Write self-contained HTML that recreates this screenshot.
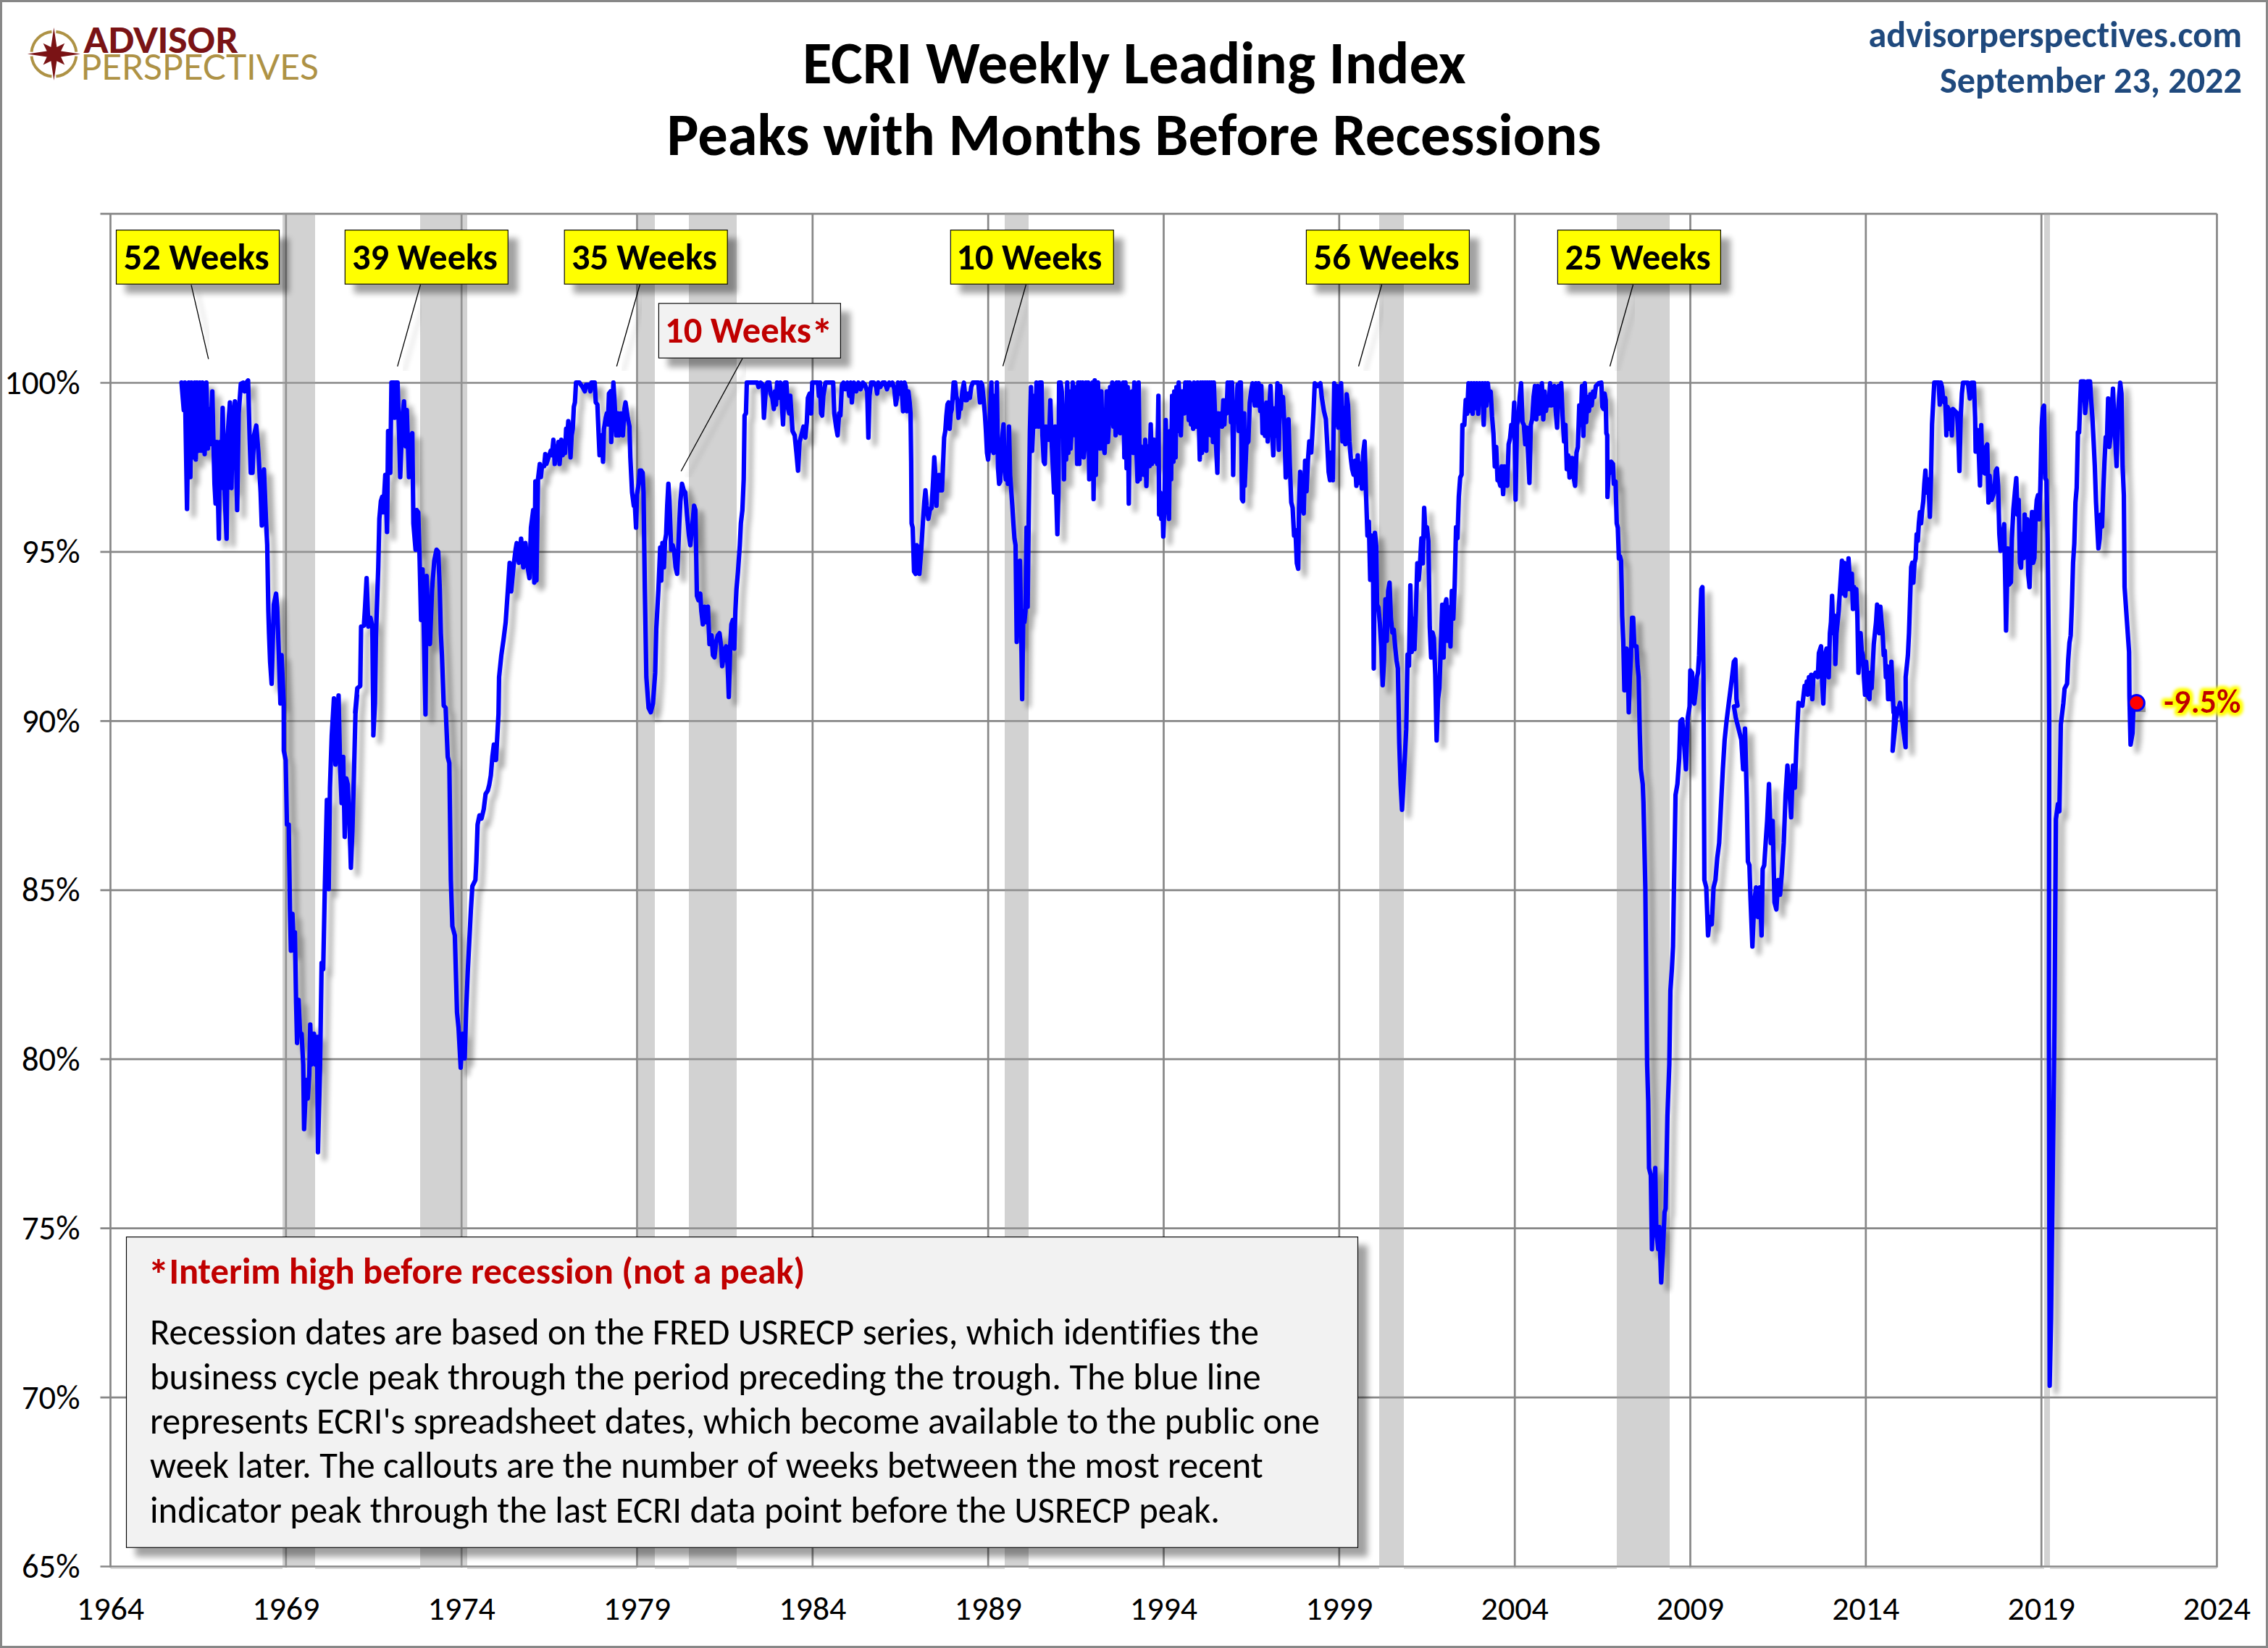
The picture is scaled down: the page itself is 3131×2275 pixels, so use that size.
<!DOCTYPE html>
<html><head><meta charset="utf-8"><title>ECRI Weekly Leading Index</title>
<style>
html,body{margin:0;padding:0;background:#fff;}
svg{display:block;}
text{font-family:Carlito, 'Liberation Sans', sans-serif;font-variant-ligatures:none;font-feature-settings:"liga" 0,"clig" 0;}
</style></head><body>
<svg width="3131" height="2275" viewBox="0 0 3131 2275">
<defs>
<filter id="shLine" x="-5%" y="-5%" width="110%" height="110%">
 <feGaussianBlur in="SourceAlpha" stdDeviation="3.8"/>
 <feOffset dx="9" dy="9" result="b"/>
 <feComponentTransfer><feFuncA type="linear" slope="0.33"/></feComponentTransfer>
 <feMerge><feMergeNode/><feMergeNode in="SourceGraphic"/></feMerge>
</filter>
<filter id="shBox" x="-20%" y="-20%" width="150%" height="160%">
 <feGaussianBlur in="SourceAlpha" stdDeviation="4.4"/>
 <feOffset dx="12.5" dy="12" result="b"/>
 <feComponentTransfer><feFuncA type="linear" slope="0.37"/></feComponentTransfer>
 <feMerge><feMergeNode/><feMergeNode in="SourceGraphic"/></feMerge>
</filter>
<filter id="glow" x="-20%" y="-40%" width="140%" height="180%">
 <feMorphology in="SourceAlpha" operator="dilate" radius="3" result="d"/>
 <feGaussianBlur in="d" stdDeviation="2.5" result="bl"/>
 <feFlood flood-color="#FFFF00"/>
 <feComposite in2="bl" operator="in" result="y"/>
 <feMerge><feMergeNode in="y"/><feMergeNode in="y"/><feMergeNode in="SourceGraphic"/></feMerge>
</filter>
</defs>
<rect x="0" y="0" width="3131" height="2275" fill="#fff"/>

<line x1="138.5" y1="2162.5" x2="3060.5" y2="2162.5" stroke="#878787" stroke-width="2.7"/>
<line x1="138.5" y1="1929.1" x2="3060.5" y2="1929.1" stroke="#878787" stroke-width="2.7"/>
<line x1="138.5" y1="1695.7" x2="3060.5" y2="1695.7" stroke="#878787" stroke-width="2.7"/>
<line x1="138.5" y1="1462.2" x2="3060.5" y2="1462.2" stroke="#878787" stroke-width="2.7"/>
<line x1="138.5" y1="1228.8" x2="3060.5" y2="1228.8" stroke="#878787" stroke-width="2.7"/>
<line x1="138.5" y1="995.4" x2="3060.5" y2="995.4" stroke="#878787" stroke-width="2.7"/>
<line x1="138.5" y1="761.9" x2="3060.5" y2="761.9" stroke="#878787" stroke-width="2.7"/>
<line x1="138.5" y1="528.5" x2="3060.5" y2="528.5" stroke="#878787" stroke-width="2.7"/>
<line x1="138.5" y1="295.1" x2="3060.5" y2="295.1" stroke="#878787" stroke-width="2.7"/>
<line x1="152.5" y1="295.1" x2="152.5" y2="2163.8" stroke="#878787" stroke-width="2.7"/>
<line x1="394.8" y1="295.1" x2="394.8" y2="2163.8" stroke="#878787" stroke-width="2.7"/>
<line x1="637.2" y1="295.1" x2="637.2" y2="2163.8" stroke="#878787" stroke-width="2.7"/>
<line x1="879.5" y1="295.1" x2="879.5" y2="2163.8" stroke="#878787" stroke-width="2.7"/>
<line x1="1121.8" y1="295.1" x2="1121.8" y2="2163.8" stroke="#878787" stroke-width="2.7"/>
<line x1="1364.2" y1="295.1" x2="1364.2" y2="2163.8" stroke="#878787" stroke-width="2.7"/>
<line x1="1606.5" y1="295.1" x2="1606.5" y2="2163.8" stroke="#878787" stroke-width="2.7"/>
<line x1="1848.8" y1="295.1" x2="1848.8" y2="2163.8" stroke="#878787" stroke-width="2.7"/>
<line x1="2091.2" y1="295.1" x2="2091.2" y2="2163.8" stroke="#878787" stroke-width="2.7"/>
<line x1="2333.5" y1="295.1" x2="2333.5" y2="2163.8" stroke="#878787" stroke-width="2.7"/>
<line x1="2575.8" y1="295.1" x2="2575.8" y2="2163.8" stroke="#878787" stroke-width="2.7"/>
<line x1="2818.2" y1="295.1" x2="2818.2" y2="2163.8" stroke="#878787" stroke-width="2.7"/>
<line x1="3060.5" y1="295.1" x2="3060.5" y2="2163.8" stroke="#878787" stroke-width="2.7"/>
<text x="110.5" y="2178.0" font-size="46.6" text-anchor="end" textLength="80.55" lengthAdjust="spacingAndGlyphs">65%</text>
<text x="110.5" y="1944.6" font-size="46.6" text-anchor="end" textLength="80.55" lengthAdjust="spacingAndGlyphs">70%</text>
<text x="110.5" y="1711.2" font-size="46.6" text-anchor="end" textLength="80.55" lengthAdjust="spacingAndGlyphs">75%</text>
<text x="110.5" y="1477.7" font-size="46.6" text-anchor="end" textLength="80.55" lengthAdjust="spacingAndGlyphs">80%</text>
<text x="110.5" y="1244.3" font-size="46.6" text-anchor="end" textLength="80.55" lengthAdjust="spacingAndGlyphs">85%</text>
<text x="110.5" y="1010.9" font-size="46.6" text-anchor="end" textLength="80.55" lengthAdjust="spacingAndGlyphs">90%</text>
<text x="110.5" y="777.4" font-size="46.6" text-anchor="end" textLength="80.55" lengthAdjust="spacingAndGlyphs">95%</text>
<text x="110.5" y="544.0" font-size="46.6" text-anchor="end" textLength="104.16" lengthAdjust="spacingAndGlyphs">100%</text>
<text x="152.5" y="2235.7" font-size="46" text-anchor="middle" textLength="93.27" lengthAdjust="spacingAndGlyphs">1964</text>
<text x="394.8" y="2235.7" font-size="46" text-anchor="middle" textLength="93.27" lengthAdjust="spacingAndGlyphs">1969</text>
<text x="637.2" y="2235.7" font-size="46" text-anchor="middle" textLength="93.27" lengthAdjust="spacingAndGlyphs">1974</text>
<text x="879.5" y="2235.7" font-size="46" text-anchor="middle" textLength="93.27" lengthAdjust="spacingAndGlyphs">1979</text>
<text x="1121.8" y="2235.7" font-size="46" text-anchor="middle" textLength="93.27" lengthAdjust="spacingAndGlyphs">1984</text>
<text x="1364.2" y="2235.7" font-size="46" text-anchor="middle" textLength="93.27" lengthAdjust="spacingAndGlyphs">1989</text>
<text x="1606.5" y="2235.7" font-size="46" text-anchor="middle" textLength="93.27" lengthAdjust="spacingAndGlyphs">1994</text>
<text x="1848.8" y="2235.7" font-size="46" text-anchor="middle" textLength="93.27" lengthAdjust="spacingAndGlyphs">1999</text>
<text x="2091.2" y="2235.7" font-size="46" text-anchor="middle" textLength="93.27" lengthAdjust="spacingAndGlyphs">2004</text>
<text x="2333.5" y="2235.7" font-size="46" text-anchor="middle" textLength="93.27" lengthAdjust="spacingAndGlyphs">2009</text>
<text x="2575.8" y="2235.7" font-size="46" text-anchor="middle" textLength="93.27" lengthAdjust="spacingAndGlyphs">2014</text>
<text x="2818.2" y="2235.7" font-size="46" text-anchor="middle" textLength="93.27" lengthAdjust="spacingAndGlyphs">2019</text>
<text x="3060.5" y="2235.7" font-size="46" text-anchor="middle" textLength="93.27" lengthAdjust="spacingAndGlyphs">2024</text>
<rect x="390" y="293.6" width="45" height="1868.9" fill="rgb(160,160,160)" fill-opacity="0.47"/>
<rect x="580" y="293.6" width="65" height="1868.9" fill="rgb(160,160,160)" fill-opacity="0.47"/>
<rect x="879" y="293.6" width="25" height="1868.9" fill="rgb(160,160,160)" fill-opacity="0.47"/>
<rect x="951" y="293.6" width="66" height="1868.9" fill="rgb(160,160,160)" fill-opacity="0.47"/>
<rect x="1387" y="293.6" width="33" height="1868.9" fill="rgb(160,160,160)" fill-opacity="0.47"/>
<rect x="1904" y="293.6" width="34" height="1868.9" fill="rgb(160,160,160)" fill-opacity="0.47"/>
<rect x="2232" y="293.6" width="73" height="1868.9" fill="rgb(160,160,160)" fill-opacity="0.47"/>
<rect x="2822" y="293.6" width="8" height="1868.9" fill="rgb(160,160,160)" fill-opacity="0.47"/>
<rect x="152.5" y="2163.8" width="237.5" height="2" fill="#D4D4D4"/>
<rect x="435.0" y="2163.8" width="145.0" height="2" fill="#D4D4D4"/>
<rect x="645.0" y="2163.8" width="234.0" height="2" fill="#D4D4D4"/>
<rect x="904.0" y="2163.8" width="47.0" height="2" fill="#D4D4D4"/>
<rect x="1017.0" y="2163.8" width="370.0" height="2" fill="#D4D4D4"/>
<rect x="1420.0" y="2163.8" width="484.0" height="2" fill="#D4D4D4"/>
<rect x="1938.0" y="2163.8" width="294.0" height="2" fill="#D4D4D4"/>
<rect x="2305.0" y="2163.8" width="517.0" height="2" fill="#D4D4D4"/>
<rect x="2830.0" y="2163.8" width="230.5" height="2" fill="#D4D4D4"/>
<g filter="url(#shLine)"><path d="M250.6,528.2 L253.7,566.1 L255.2,528.2 L258.2,702.7 L260.6,528.2 L262.8,658.7 L264.3,528.2 L267.3,631.4 L268.8,528.2 L270.3,634.4 L271.9,528.2 L274.0,622.3 L275.8,528.2 L277.9,622.3 L279.4,528.2 L282.5,626.8 L284.9,528.2 L287.0,619.2 L288.5,564.6 L290.1,613.2 L293.1,540.3 L294.6,607.1 L296.1,667.8 L297.6,695.1 L299.2,610.1 L302.2,743.6 L303.7,610.1 L305.2,673.8 L307.4,563.1 L309.8,673.8 L312.8,743.6 L314.3,601.0 L317.4,555.5 L319.5,673.8 L321.3,585.8 L324.3,554.0 L327.4,704.2 L329.5,570.7 L332.5,529.7 L335.6,528.2 L337.7,540.3 L340.1,528.2 L342.5,525.2 L344.7,607.1 L346.2,652.6 L348.6,652.6 L350.7,601.0 L353.8,587.4 L356.8,625.3 L359.8,679.9 L361.4,725.4 L364.4,648.0 L367.4,722.4 L368.9,752.7 L370.5,843.7 L371.4,874.1 L372.9,913.5 L375.0,943.9 L378.0,834.6 L381.1,819.5 L382.6,837.7 L385.0,904.4 L387.1,971.2 L388.7,904.4 L391.7,971.2 L391.8,1036.4 L394.4,1049.2 L396.1,1138.3 L398.6,1138.3 L400.3,1257.2 L401.6,1312.4 L403.7,1261.5 L405.8,1312.4 L407.1,1287.0 L408.8,1384.6 L410.1,1439.8 L412.2,1380.4 L414.3,1427.1 L416.4,1427.1 L418.6,1469.6 L419.8,1558.7 L422.8,1490.8 L424.9,1516.3 L427.0,1482.3 L428.3,1414.4 L430.0,1469.6 L431.3,1461.1 L433.4,1427.1 L435.5,1469.6 L437.7,1431.3 L438.9,1590.6 L441.9,1469.6 L444.0,1329.4 L446.2,1337.9 L448.3,1231.8 L451.3,1104.4 L453.8,1227.5 L455.5,1087.4 L458.0,1015.2 L461.0,964.2 L463.1,1055.5 L465.3,1011.0 L467.4,960.0 L469.5,1057.7 L471.6,1108.6 L473.8,1044.9 L475.9,1155.3 L478.0,1074.6 L480.1,1083.1 L482.3,1129.9 L484.4,1197.8 L486.5,1146.8 L488.6,1070.4 L490.7,985.5 L492.9,960.0 L490.3,983.3 L493.3,949.9 L497.3,946.9 L498.5,865.0 L502.4,863.5 L504.0,837.7 L506.1,798.2 L508.5,865.0 L511.5,852.8 L514.0,865.0 L515.5,1010.0 L515.4,1015.2 L517.6,971.2 L519.1,874.1 L522.2,783.1 L523.7,716.3 L525.8,692.0 L527.6,686.0 L529.1,707.2 L531.9,655.6 L534.3,734.5 L535.8,595.0 L538.8,652.6 L540.4,528.2 L543.4,528.2 L544.9,576.7 L546.4,528.2 L548.9,528.2 L551.0,601.0 L552.5,658.7 L555.5,576.7 L557.7,554.0 L560.1,616.2 L561.6,566.1 L564.6,658.7 L567.7,601.0 L569.2,598.0 L570.7,722.4 L573.7,758.8 L575.3,704.2 L577.4,707.2 L579.2,767.9 L581.3,855.9 L583.4,786.1 L587.4,986.3 L588.9,795.2 L591.9,874.1 L593.5,889.2 L596.5,813.4 L599.5,774.0 L602.6,758.8 L605.0,761.8 L607.1,813.4 L608.6,874.1 L610.1,904.4 L612.6,974.2 L615.2,977.0 L618.1,1044.9 L620.3,1053.4 L622.4,1214.8 L624.5,1278.5 L627.9,1291.2 L630.9,1397.4 L633.0,1418.6 L636.0,1473.8 L638.5,1427.1 L641.5,1461.1 L643.6,1393.1 L645.7,1342.2 L650.0,1257.2 L652.1,1223.3 L656.3,1214.8 L657.6,1189.3 L659.3,1138.3 L661.9,1125.6 L664.8,1129.9 L667.8,1117.1 L670.4,1095.9 L673.3,1091.6 L675.5,1083.1 L677.6,1070.4 L679.7,1044.9 L681.8,1027.9 L684.8,1049.2 L686.1,1023.7 L688.2,985.5 L689.0,934.8 L692.1,904.4 L695.1,883.2 L698.1,858.9 L701.2,813.4 L703.6,777.0 L705.7,816.4 L708.8,783.1 L711.8,758.8 L713.3,749.7 L716.3,777.0 L719.4,743.6 L722.4,783.1 L725.4,749.7 L728.5,783.1 L730.9,798.2 L733.0,728.4 L736.1,704.2 L737.6,804.3 L739.1,664.7 L740.6,801.3 L742.1,704.2 L742.7,661.7 L745.2,640.5 L746.7,658.7 L748.2,643.5 L751.2,643.5 L752.8,626.8 L754.3,640.5 L757.3,631.4 L760.3,622.3 L761.9,628.3 L764.0,607.1 L765.8,640.5 L767.9,616.2 L769.4,631.4 L771.0,610.1 L772.5,640.5 L774.9,607.1 L777.0,628.3 L778.5,610.1 L780.1,625.3 L781.6,591.9 L783.1,601.0 L784.6,581.3 L786.1,598.0 L787.6,631.4 L789.2,601.0 L790.7,591.9 L792.2,561.6 L793.7,555.5 L795.2,528.2 L799.8,528.2 L804.3,534.3 L807.4,540.3 L808.9,531.2 L813.4,531.2 L815.0,540.3 L816.5,528.2 L821.0,528.2 L822.5,555.5 L824.7,558.5 L826.5,601.0 L827.7,628.3 L829.5,607.1 L830.7,601.0 L832.5,637.4 L833.8,591.9 L836.2,576.7 L837.7,570.7 L839.2,585.8 L840.7,543.4 L842.9,540.3 L843.8,610.1 L845.3,564.6 L846.8,528.2 L848.3,552.5 L850.8,601.0 L852.9,570.7 L854.4,601.0 L855.9,579.8 L857.4,570.7 L859.9,601.0 L862.0,564.6 L863.5,555.5 L866.5,576.7 L869.0,588.9 L870.2,631.4 L872.6,679.9 L875.0,698.1 L876.2,692.0 L878.1,728.4 L879.3,682.9 L881.7,667.8 L883.2,649.6 L885.3,649.6 L887.2,652.6 L888.4,679.9 L890.2,813.4 L892.3,934.8 L895.4,977.2 L898.4,983.3 L901.4,971.2 L904.5,928.7 L906.0,868.0 L909.0,813.4 L911.4,755.8 L912.9,801.3 L914.5,749.7 L916.6,783.1 L918.1,746.7 L919.6,737.5 L921.1,698.1 L922.7,667.8 L924.2,692.0 L926.6,758.8 L928.7,752.7 L930.8,761.8 L932.7,783.1 L934.8,792.2 L936.3,758.8 L937.8,722.4 L939.3,692.0 L941.5,667.8 L943.9,676.9 L946.0,679.9 L948.4,710.2 L950.9,737.5 L953.0,752.7 L956.0,722.4 L958.2,698.1 L960.0,704.2 L962.1,822.5 L964.2,828.6 L966.7,819.5 L968.2,843.7 L970.3,861.9 L972.7,837.7 L975.1,858.9 L977.3,837.7 L979.4,889.2 L982.4,877.1 L984.2,904.4 L986.4,907.5 L988.5,886.2 L990.9,877.1 L993.3,874.1 L995.5,892.3 L997.0,919.6 L1000.0,898.3 L1002.5,892.3 L1004.6,919.6 L1006.1,962.1 L1008.2,889.2 L1009.7,861.9 L1011.6,855.9 L1013.7,895.3 L1015.2,843.7 L1016.7,813.4 L1018.8,789.1 L1021.3,752.7 L1022.8,722.4 L1024.9,704.2 L1026.7,661.7 L1027.9,573.7 L1029.8,570.7 L1031.0,528.2 L1045.5,528.2 L1047.1,534.3 L1050.1,528.2 L1053.1,531.2 L1054.6,576.7 L1057.1,540.3 L1059.2,528.2 L1062.2,528.2 L1063.7,543.4 L1066.2,549.4 L1068.3,564.6 L1069.8,540.3 L1071.3,558.5 L1072.8,528.2 L1074.4,549.4 L1075.9,534.3 L1077.4,528.2 L1078.9,546.4 L1081.0,585.8 L1082.5,546.4 L1083.5,528.2 L1085.6,528.2 L1087.4,561.6 L1089.5,570.7 L1091.0,546.4 L1094.1,595.0 L1097.1,601.0 L1099.5,625.3 L1101.7,649.6 L1103.8,610.1 L1106.2,601.0 L1109.2,588.9 L1111.7,604.1 L1113.8,582.8 L1115.3,549.4 L1117.7,543.4 L1119.9,570.7 L1121.4,528.2 L1124.4,528.2 L1129.0,528.2 L1130.5,546.4 L1132.0,528.2 L1133.5,570.7 L1135.0,573.7 L1136.6,546.4 L1138.1,537.3 L1139.6,528.2 L1150.2,528.2 L1151.7,570.7 L1154.2,588.9 L1156.3,601.0 L1158.4,570.7 L1160.2,573.7 L1162.3,531.2 L1164.5,528.2 L1166.9,537.3 L1169.9,528.2 L1172.4,546.4 L1174.5,528.2 L1176.0,555.5 L1177.5,534.3 L1179.0,528.2 L1182.1,540.3 L1185.1,528.2 L1188.1,537.3 L1191.2,528.2 L1194.2,531.2 L1197.2,540.3 L1198.8,604.1 L1200.3,546.4 L1202.7,528.2 L1206.3,528.2 L1209.4,534.3 L1210.9,543.4 L1212.4,528.2 L1215.4,534.3 L1218.5,528.2 L1221.5,528.2 L1224.5,537.3 L1227.6,528.2 L1230.0,531.2 L1232.1,528.2 L1234.6,537.3 L1236.7,558.5 L1238.2,549.4 L1239.7,528.2 L1241.8,543.4 L1244.3,528.2 L1246.7,567.6 L1248.8,528.2 L1250.3,534.3 L1251.9,567.6 L1254.0,540.3 L1255.8,555.5 L1257.0,570.7 L1257.9,637.4 L1258.5,722.4 L1260.0,728.4 L1261.9,789.1 L1264.0,792.2 L1265.5,752.7 L1267.9,755.8 L1269.2,792.2 L1271.6,761.8 L1274.0,722.4 L1276.1,692.0 L1277.6,676.9 L1279.2,698.1 L1281.6,716.3 L1283.7,704.2 L1286.1,701.1 L1288.3,661.7 L1289.8,631.4 L1291.3,655.6 L1292.8,698.1 L1294.3,661.7 L1296.5,655.6 L1298.3,676.9 L1300.4,676.9 L1301.9,640.5 L1303.4,604.1 L1305.0,595.0 L1306.5,573.7 L1308.0,558.5 L1309.5,555.5 L1311.0,591.9 L1312.5,570.7 L1314.1,564.6 L1316.5,528.2 L1318.6,528.2 L1320.1,546.4 L1321.6,552.5 L1323.2,576.7 L1324.7,561.6 L1326.2,564.6 L1328.6,540.3 L1330.7,528.2 L1332.9,552.5 L1334.7,552.5 L1336.8,543.4 L1338.9,549.4 L1340.8,534.3 L1342.9,528.2 L1347.4,528.2 L1350.5,528.2 L1352.9,555.5 L1354.4,528.2 L1355.9,531.2 L1358.0,552.5 L1359.6,570.7 L1361.1,595.0 L1362.6,625.3 L1364.1,634.4 L1365.6,613.2 L1367.1,564.6 L1368.7,528.2 L1369.6,622.3 L1370.8,555.5 L1371.7,625.3 L1373.2,546.4 L1374.7,601.0 L1376.2,528.2 L1377.8,646.5 L1379.3,667.8 L1380.8,664.7 L1382.3,616.2 L1383.8,601.0 L1385.4,585.8 L1386.9,646.5 L1388.4,661.7 L1389.9,631.4 L1391.4,667.8 L1392.9,588.9 L1394.5,655.6 L1396.0,676.9 L1397.5,698.1 L1399.0,722.4 L1400.5,743.6 L1402.0,752.7 L1403.6,886.2 L1405.1,777.0 L1406.6,843.7 L1408.1,774.0 L1409.6,855.9 L1411.1,965.1 L1412.7,843.7 L1414.2,858.9 L1415.7,843.7 L1417.2,728.4 L1418.7,837.7 L1420.2,707.2 L1421.8,595.0 L1423.3,534.3 L1424.8,622.3 L1426.3,588.9 L1427.8,546.4 L1429.3,588.9 L1430.9,528.2 L1432.4,540.3 L1433.9,588.9 L1435.4,528.2 L1437.8,528.2 L1439.1,601.0 L1440.9,637.4 L1442.4,640.5 L1443.9,588.9 L1446.0,595.0 L1448.2,607.1 L1450.0,552.5 L1452.1,616.2 L1453.6,646.5 L1455.1,679.9 L1456.7,588.9 L1458.2,686.0 L1459.7,737.5 L1461.2,679.9 L1462.1,528.2 L1464.2,528.2 L1465.8,540.3 L1467.3,570.7 L1468.8,661.7 L1470.3,570.7 L1471.8,634.4 L1473.3,528.2 L1474.9,625.3 L1476.4,540.3 L1477.9,619.2 L1479.4,595.0 L1480.9,528.2 L1482.4,546.4 L1484.0,601.0 L1485.5,534.3 L1487.0,640.5 L1488.5,528.2 L1490.0,640.5 L1491.5,528.2 L1493.1,585.8 L1494.6,528.2 L1496.1,631.4 L1497.6,616.2 L1499.1,528.2 L1500.6,570.7 L1502.2,528.2 L1503.7,661.7 L1505.2,540.3 L1506.7,655.6 L1508.2,528.2 L1509.7,689.0 L1511.3,525.2 L1512.8,655.6 L1514.3,540.3 L1515.8,528.2 L1517.3,601.0 L1518.8,619.2 L1520.4,540.3 L1521.9,607.1 L1523.4,616.2 L1524.9,625.3 L1526.4,585.8 L1527.9,540.3 L1529.5,610.1 L1531.0,582.8 L1532.5,534.3 L1534.0,570.7 L1535.5,528.2 L1537.1,588.9 L1538.6,534.3 L1540.1,601.0 L1541.6,528.2 L1543.1,555.5 L1544.6,528.2 L1546.2,598.0 L1547.7,564.6 L1549.2,582.8 L1550.7,528.2 L1552.2,631.4 L1553.7,528.2 L1555.3,646.5 L1556.8,534.3 L1558.3,695.1 L1559.8,546.4 L1561.3,601.0 L1562.8,540.3 L1564.4,625.3 L1565.9,528.2 L1567.4,610.1 L1568.9,622.3 L1570.4,664.7 L1571.9,528.2 L1573.5,661.7 L1575.0,616.2 L1576.5,625.3 L1578.0,625.3 L1579.5,655.6 L1581.0,607.1 L1582.6,670.8 L1584.1,616.2 L1585.6,631.4 L1587.1,643.5 L1588.6,585.8 L1590.1,640.5 L1591.7,610.1 L1593.2,607.1 L1594.7,637.4 L1596.2,616.2 L1597.7,640.5 L1599.2,546.4 L1600.2,710.2 L1601.7,679.9 L1603.2,716.3 L1604.7,692.0 L1605.9,740.6 L1607.7,692.0 L1609.3,579.8 L1610.8,661.7 L1612.0,692.0 L1613.8,716.3 L1615.3,595.0 L1616.8,661.7 L1618.1,546.4 L1619.9,637.4 L1621.1,540.3 L1622.9,631.4 L1624.1,534.3 L1625.9,595.0 L1627.2,528.2 L1629.0,570.7 L1630.2,601.0 L1632.0,540.3 L1633.2,570.7 L1635.0,570.7 L1636.3,528.2 L1638.1,564.6 L1639.3,528.2 L1641.1,579.8 L1642.3,528.2 L1644.2,585.8 L1645.4,552.5 L1647.2,591.9 L1648.4,528.2 L1650.2,540.3 L1651.4,588.9 L1653.3,528.2 L1654.5,558.5 L1656.3,634.4 L1657.5,528.2 L1659.3,625.3 L1660.5,528.2 L1662.4,616.2 L1663.6,528.2 L1665.4,622.3 L1666.6,528.2 L1668.4,570.7 L1669.6,528.2 L1671.5,601.0 L1672.7,528.2 L1674.5,610.1 L1675.7,528.2 L1677.5,576.7 L1678.7,613.2 L1680.6,652.6 L1681.8,570.7 L1683.6,576.7 L1685.7,570.7 L1687.2,588.9 L1688.8,552.5 L1690.3,585.8 L1691.8,552.5 L1693.3,570.7 L1694.8,528.2 L1696.3,564.6 L1697.9,528.2 L1699.4,582.8 L1700.9,528.2 L1702.4,655.6 L1703.9,561.6 L1705.4,570.7 L1707.0,561.6 L1708.5,531.2 L1710.0,595.0 L1711.5,528.2 L1713.0,528.2 L1714.5,689.0 L1716.1,692.0 L1717.6,570.7 L1718.4,670.6 L1720.7,613.2 L1723.4,609.4 L1725.3,555.9 L1727.2,540.6 L1729.1,529.1 L1732.2,559.7 L1733.7,529.1 L1736.0,559.7 L1737.5,529.1 L1739.8,567.3 L1741.3,532.9 L1742.9,597.9 L1744.4,559.7 L1746.3,601.7 L1748.2,555.9 L1750.1,609.4 L1752.0,567.3 L1754.0,532.9 L1755.9,586.5 L1757.8,628.5 L1759.7,563.5 L1761.6,601.7 L1763.5,529.1 L1765.4,620.9 L1767.3,532.9 L1769.3,567.3 L1771.2,548.2 L1773.1,586.5 L1775.0,659.1 L1776.9,586.5 L1778.8,578.8 L1780.7,643.8 L1782.6,693.5 L1784.5,701.1 L1786.5,739.4 L1788.4,731.7 L1790.3,777.6 L1792.2,785.2 L1793.3,701.1 L1794.9,651.4 L1797.2,697.3 L1799.8,708.8 L1801.7,636.1 L1803.7,678.2 L1805.6,636.1 L1807.5,609.4 L1810.2,624.7 L1811.3,605.6 L1813.2,571.2 L1815.1,529.1 L1818.9,532.9 L1822.8,529.1 L1824.7,548.2 L1827.7,567.3 L1830.4,578.8 L1832.3,613.2 L1834.2,651.4 L1836.1,662.9 L1838.1,624.7 L1840.0,662.9 L1841.9,529.1 L1843.8,586.5 L1845.7,532.9 L1847.6,590.3 L1849.5,555.9 L1851.4,529.1 L1853.3,609.4 L1855.3,563.5 L1857.2,613.2 L1859.1,544.4 L1861.0,559.7 L1862.9,609.4 L1864.8,632.3 L1866.7,647.6 L1868.6,655.3 L1870.6,636.1 L1872.5,670.6 L1874.4,628.5 L1876.3,666.7 L1878.2,640.0 L1880.1,674.4 L1882.0,624.7 L1883.9,609.4 L1885.8,682.0 L1887.8,739.4 L1889.7,720.2 L1891.6,800.5 L1893.5,739.4 L1895.4,758.5 L1896.5,922.8 L1898.1,735.5 L1900.0,754.6 L1901.1,834.9 L1903.0,838.7 L1905.0,861.7 L1906.9,892.3 L1908.8,945.8 L1910.7,911.4 L1912.6,827.3 L1914.5,884.6 L1916.4,815.8 L1918.3,804.3 L1920.2,854.0 L1922.2,873.1 L1924.1,869.3 L1926.0,892.3 L1927.9,911.4 L1929.8,922.8 L1931.7,1026.1 L1933.6,1083.4 L1935.5,1117.8 L1937.4,1083.4 L1939.4,1045.2 L1941.3,1006.9 L1943.2,903.7 L1945.1,919.0 L1947.0,808.2 L1948.9,899.9 L1950.8,854.0 L1952.7,896.1 L1954.6,846.4 L1956.6,777.6 L1958.5,800.5 L1960.4,777.6 L1962.3,743.2 L1964.2,777.6 L1966.1,701.1 L1968.0,739.4 L1969.9,727.9 L1971.9,747.0 L1973.8,865.5 L1975.7,907.6 L1977.6,873.1 L1979.5,880.8 L1981.4,930.5 L1983.3,1022.2 L1985.2,964.9 L1987.1,949.6 L1989.1,892.3 L1991.0,834.9 L1992.9,907.6 L1994.8,834.9 L1996.7,827.3 L1998.6,884.6 L2000.5,838.7 L2002.4,892.3 L2004.3,815.8 L2006.3,854.0 L2008.2,808.2 L2010.1,727.9 L2012.0,743.2 L2013.9,685.8 L2015.8,659.1 L2017.7,655.3 L2018.9,586.5 L2021.5,586.5 L2023.5,552.0 L2025.4,571.2 L2027.3,529.1 L2029.2,567.3 L2031.1,529.1 L2033.0,571.2 L2034.9,529.1 L2036.8,563.5 L2038.7,529.1 L2040.7,571.2 L2042.6,529.1 L2044.5,548.2 L2046.4,529.1 L2048.3,586.5 L2050.2,529.1 L2052.1,559.7 L2054.0,529.1 L2055.9,552.0 L2057.9,540.6 L2059.8,575.0 L2061.7,597.9 L2063.6,643.8 L2065.5,617.0 L2067.4,662.9 L2069.3,662.9 L2071.2,670.6 L2073.1,643.8 L2075.1,682.0 L2077.0,643.8 L2078.9,662.9 L2080.8,670.6 L2082.7,613.2 L2084.6,605.6 L2086.5,586.5 L2088.4,594.1 L2090.4,555.9 L2092.3,689.7 L2094.2,586.5 L2096.1,578.8 L2098.0,548.2 L2099.9,529.1 L2101.8,582.6 L2103.7,586.5 L2105.6,613.2 L2107.6,590.3 L2109.5,624.7 L2111.4,666.7 L2113.3,586.5 L2115.2,578.8 L2117.1,548.2 L2119.0,532.9 L2120.9,578.8 L2122.8,532.9 L2124.8,571.2 L2126.7,555.9 L2128.6,529.1 L2130.5,578.8 L2132.4,540.6 L2134.3,567.3 L2136.2,548.2 L2138.1,559.7 L2140.0,529.1 L2142.0,559.7 L2143.9,536.8 L2145.8,532.9 L2147.7,567.3 L2149.6,590.3 L2151.5,532.9 L2153.4,548.2 L2155.3,529.1 L2157.2,575.0 L2159.2,609.4 L2161.1,586.5 L2163.0,647.6 L2164.9,628.5 L2166.8,659.1 L2168.7,632.3 L2170.6,632.3 L2172.5,659.1 L2174.4,670.6 L2176.4,624.7 L2178.3,617.0 L2180.2,559.7 L2182.1,586.5 L2184.0,532.9 L2185.9,601.7 L2187.8,529.1 L2189.7,582.6 L2191.7,548.2 L2193.6,567.3 L2195.5,544.4 L2197.4,559.7 L2199.3,540.6 L2201.2,548.2 L2203.1,532.9 L2206.9,529.1 L2210.6,528.2 L2212.1,561.6 L2213.7,564.6 L2215.2,543.4 L2216.7,552.5 L2217.6,598.0 L2218.8,601.0 L2219.1,686.0 L2220.6,655.6 L2222.8,649.6 L2224.3,637.4 L2226.7,640.5 L2227.9,667.8 L2230.3,664.7 L2231.9,722.4 L2233.4,728.4 L2234.9,770.9 L2236.4,767.9 L2237.9,774.0 L2238.8,813.4 L2239.4,849.8 L2241.0,886.2 L2242.5,953.0 L2244.0,919.6 L2245.5,895.3 L2247.0,904.4 L2248.5,983.3 L2250.1,934.8 L2251.6,904.4 L2253.1,852.8 L2254.6,852.8 L2256.1,889.2 L2257.6,892.3 L2259.2,892.3 L2260.7,919.6 L2262.2,934.8 L2263.7,1011.0 L2265.2,1061.9 L2267.8,1082.3 L2268.8,1107.8 L2271.4,1225.0 L2273.9,1469.7 L2275.4,1520.7 L2276.5,1612.4 L2279.0,1622.6 L2280.5,1724.5 L2282.6,1673.6 L2285.1,1612.4 L2286.6,1699.0 L2289.2,1724.5 L2290.7,1693.9 L2293.3,1770.4 L2295.8,1724.5 L2297.9,1673.6 L2299.4,1668.5 L2301.9,1541.0 L2304.5,1469.7 L2306.0,1367.7 L2308.1,1337.2 L2309.6,1306.6 L2311.1,1214.8 L2313.1,1097.6 L2315.7,1082.3 L2318.2,1046.6 L2319.8,995.7 L2322.3,993.1 L2324.9,1026.3 L2327.4,1061.9 L2330.0,990.6 L2332.5,975.3 L2333.5,925.7 L2335.9,928.7 L2337.1,965.1 L2339.0,971.2 L2341.1,953.0 L2342.6,934.8 L2344.1,928.7 L2345.6,904.4 L2347.1,858.9 L2348.7,813.4 L2350.2,810.4 L2351.7,934.8 L2352.9,1214.8 L2355.5,1225.0 L2358.0,1291.3 L2360.6,1265.8 L2363.1,1276.0 L2365.6,1225.0 L2368.2,1214.8 L2370.7,1184.3 L2373.3,1163.9 L2375.8,1112.9 L2378.4,1061.9 L2380.9,1021.2 L2383.5,995.7 L2386.0,975.3 L2388.1,959.0 L2391.1,934.8 L2393.6,913.5 L2395.7,910.5 L2397.2,965.1 L2398.7,974.2 L2393.7,975.3 L2396.2,990.6 L2398.8,1000.8 L2403.9,1021.2 L2406.4,1061.9 L2409.0,1005.9 L2411.5,1102.7 L2413.0,1189.4 L2415.1,1194.5 L2416.6,1240.3 L2419.2,1306.6 L2421.7,1245.4 L2424.3,1225.0 L2426.8,1265.8 L2429.4,1225.0 L2431.9,1291.3 L2433.4,1199.6 L2435.5,1194.5 L2437.5,1163.9 L2439.6,1133.3 L2442.1,1082.3 L2444.6,1163.9 L2447.2,1133.3 L2449.7,1245.4 L2452.3,1255.6 L2454.8,1214.8 L2457.4,1235.2 L2459.9,1204.6 L2462.5,1163.9 L2465.0,1097.6 L2467.6,1056.8 L2470.1,1087.4 L2472.7,1128.2 L2475.2,1056.8 L2477.8,1087.4 L2480.3,1021.2 L2482.9,970.2 L2488.2,974.2 L2491.3,946.9 L2492.8,953.0 L2494.3,940.8 L2495.8,959.0 L2497.3,934.8 L2498.8,949.9 L2500.4,931.7 L2501.9,965.1 L2503.4,934.8 L2506.4,928.7 L2509.5,934.8 L2511.0,901.4 L2514.0,892.3 L2515.5,940.8 L2517.1,971.2 L2518.6,928.7 L2520.1,901.4 L2521.6,895.3 L2524.6,934.8 L2526.2,874.1 L2527.7,858.9 L2529.2,822.5 L2530.7,874.1 L2532.2,849.8 L2533.7,916.6 L2535.3,874.1 L2536.8,858.9 L2538.3,843.7 L2539.8,819.5 L2542.8,774.0 L2544.4,819.5 L2545.9,777.0 L2547.4,822.5 L2548.9,789.1 L2550.4,813.4 L2551.9,770.9 L2553.5,798.2 L2555.0,813.4 L2556.5,792.2 L2558.0,840.7 L2559.5,810.4 L2561.0,828.6 L2562.6,813.4 L2564.1,849.8 L2565.6,928.7 L2567.1,904.4 L2568.6,874.1 L2570.1,898.3 L2571.7,904.4 L2573.2,934.8 L2574.7,959.0 L2576.2,913.5 L2577.7,934.8 L2579.2,962.1 L2580.8,965.1 L2582.3,928.7 L2583.8,949.9 L2585.3,919.6 L2586.8,889.2 L2588.3,874.1 L2589.9,858.9 L2591.4,834.6 L2592.9,843.7 L2594.4,874.1 L2595.9,837.7 L2597.5,858.9 L2599.0,874.1 L2600.5,904.4 L2602.0,898.3 L2603.5,934.8 L2605.0,919.6 L2606.6,965.1 L2608.1,934.8 L2609.6,965.1 L2611.1,913.5 L2612.6,949.9 L2614.1,983.3 L2615.7,977.2 L2617.2,995.4 L2612.8,1036.5 L2615.4,980.4 L2617.9,990.6 L2623.0,970.2 L2628.1,1011.0 L2630.7,1031.4 L2630.8,934.8 L2633.9,904.4 L2635.4,874.1 L2636.9,828.6 L2638.4,783.1 L2639.9,777.0 L2641.4,804.3 L2643.0,777.0 L2644.5,770.9 L2646.0,737.5 L2647.5,746.7 L2649.0,722.4 L2650.5,707.2 L2652.1,722.4 L2653.6,704.2 L2655.1,692.0 L2656.6,667.8 L2658.1,649.6 L2659.6,679.9 L2661.2,661.7 L2662.7,676.9 L2664.2,713.3 L2665.7,661.7 L2667.2,585.8 L2668.8,555.5 L2670.3,528.2 L2673.3,528.2 L2676.3,528.2 L2677.9,558.5 L2679.4,528.2 L2680.9,534.3 L2682.4,549.4 L2683.9,555.5 L2685.4,549.4 L2687.0,601.0 L2688.5,561.6 L2690.0,564.6 L2691.5,591.9 L2693.0,570.7 L2694.5,601.0 L2696.1,564.6 L2701.7,570.1 L2703.4,596.8 L2705.0,650.2 L2706.7,576.8 L2708.4,543.4 L2710.0,528.4 L2713.4,528.4 L2716.7,528.4 L2719.4,550.1 L2721.7,528.4 L2725.0,528.4 L2726.7,576.8 L2727.4,623.5 L2729.4,593.4 L2731.7,623.5 L2733.4,670.2 L2735.1,586.8 L2736.7,650.2 L2740.1,653.5 L2741.7,616.8 L2743.4,613.5 L2745.1,693.6 L2746.7,656.9 L2749.4,690.2 L2751.7,683.6 L2753.4,676.9 L2755.1,650.2 L2756.8,646.8 L2758.4,670.2 L2760.1,737.0 L2761.8,760.3 L2764.1,743.6 L2766.8,723.6 L2768.4,810.4 L2769.4,870.5 L2771.8,757.0 L2773.4,807.1 L2776.1,803.7 L2777.4,743.6 L2779.5,703.6 L2781.8,676.9 L2783.5,660.2 L2785.1,710.3 L2786.8,690.2 L2788.5,777.0 L2790.1,783.7 L2791.8,737.0 L2793.5,770.3 L2795.1,710.3 L2796.8,743.6 L2798.5,716.9 L2800.1,793.7 L2801.8,810.4 L2803.5,743.6 L2805.2,706.9 L2806.8,777.0 L2808.5,770.3 L2810.2,710.3 L2811.8,690.2 L2813.5,683.6 L2815.2,716.9 L2816.8,670.2 L2818.5,590.1 L2820.2,563.4 L2821.8,560.1 L2823.5,660.2 L2825.2,663.5 L2826.8,743.6 L2828.5,910.5 L2829.0,1000.0 L2828.6,1420.0 L2829.6,1913.0 L2831.5,1820.0 L2836.2,1420.0 L2838.2,1131.0 L2841.0,1110.0 L2843.0,1120.0 L2845.0,1000.0 L2848.5,970.6 L2850.2,950.6 L2853.6,943.9 L2855.2,910.5 L2856.9,887.2 L2858.6,877.2 L2860.2,837.1 L2861.9,777.0 L2863.6,750.3 L2865.2,693.6 L2866.9,673.6 L2868.6,596.8 L2870.2,596.8 L2871.9,550.1 L2872.9,526.7 L2876.9,526.7 L2878.6,570.1 L2880.3,553.4 L2881.9,526.7 L2885.3,526.7 L2886.9,553.4 L2888.6,576.8 L2890.3,610.1 L2891.9,643.5 L2893.6,693.6 L2895.3,727.0 L2896.9,757.0 L2898.6,743.6 L2900.3,710.3 L2901.9,727.0 L2903.6,676.9 L2905.3,636.8 L2907.0,603.5 L2908.6,610.1 L2910.3,550.1 L2912.0,616.8 L2913.6,603.5 L2915.3,566.7 L2917.0,536.7 L2918.6,576.8 L2920.3,610.1 L2922.0,643.5 L2923.6,576.8 L2925.3,550.1 L2927.0,528.4 L2928.7,543.4 L2930.3,643.5 L2932.0,683.6 L2933.0,810.4 L2939.2,900.0 L2939.7,961.0 L2941.3,1028.0 L2944.0,1012.0 L2945.0,982.0 L2949.6,970.3" fill="none" stroke="#0000FF" stroke-width="6.2" stroke-linejoin="round" stroke-linecap="round"/></g>
<circle cx="2949.6" cy="970.3" r="10.7" fill="#FF0000" stroke="#0000FF" stroke-width="3" filter="url(#shLine)"/>
<text x="2987" y="983.5" font-size="46" font-weight="bold" fill="#C00000" filter="url(#glow)" textLength="106.55" lengthAdjust="spacingAndGlyphs">-9.5%</text>
<line x1="264" y1="393.4" x2="287.8" y2="495.7" stroke="#000" stroke-width="1.3" filter="url(#shLine)"/>
<rect x="160.5" y="317.6" width="225" height="74.6" fill="#FFFF00" stroke="#000" stroke-width="1.15" filter="url(#shBox)"/>
<text x="170.7" y="371.5" font-size="50.4" font-weight="bold" textLength="200.95" lengthAdjust="spacingAndGlyphs">52 Weeks</text>
<line x1="580.4" y1="393" x2="548.7" y2="505.9" stroke="#000" stroke-width="1.3" filter="url(#shLine)"/>
<rect x="476.3" y="317.6" width="225" height="74.6" fill="#FFFF00" stroke="#000" stroke-width="1.15" filter="url(#shBox)"/>
<text x="486.0" y="371.5" font-size="50.4" font-weight="bold" textLength="200.95" lengthAdjust="spacingAndGlyphs">39 Weeks</text>
<line x1="883.4" y1="392.8" x2="851.3" y2="505.7" stroke="#000" stroke-width="1.3" filter="url(#shLine)"/>
<rect x="779.2" y="317.6" width="225" height="74.6" fill="#FFFF00" stroke="#000" stroke-width="1.15" filter="url(#shBox)"/>
<text x="788.9" y="371.5" font-size="50.4" font-weight="bold" textLength="200.95" lengthAdjust="spacingAndGlyphs">35 Weeks</text>
<line x1="1416.4" y1="393" x2="1384.5" y2="505.5" stroke="#000" stroke-width="1.3" filter="url(#shLine)"/>
<rect x="1312.3" y="317.6" width="225" height="74.6" fill="#FFFF00" stroke="#000" stroke-width="1.15" filter="url(#shBox)"/>
<text x="1320.5" y="371.5" font-size="50.4" font-weight="bold" textLength="200.95" lengthAdjust="spacingAndGlyphs">10 Weeks</text>
<line x1="1907.5" y1="393" x2="1875.5" y2="505.8" stroke="#000" stroke-width="1.3" filter="url(#shLine)"/>
<rect x="1803.4" y="317.6" width="225" height="74.6" fill="#FFFF00" stroke="#000" stroke-width="1.15" filter="url(#shBox)"/>
<text x="1813.6" y="371.5" font-size="50.4" font-weight="bold" textLength="200.95" lengthAdjust="spacingAndGlyphs">56 Weeks</text>
<line x1="2254.5" y1="393" x2="2222.5" y2="505.8" stroke="#000" stroke-width="1.3" filter="url(#shLine)"/>
<rect x="2150.4" y="317.6" width="225" height="74.6" fill="#FFFF00" stroke="#000" stroke-width="1.15" filter="url(#shBox)"/>
<text x="2160.6" y="371.5" font-size="50.4" font-weight="bold" textLength="200.95" lengthAdjust="spacingAndGlyphs">25 Weeks</text>
<line x1="1024.9" y1="495" x2="940.2" y2="650.5" stroke="#000" stroke-width="1.3" filter="url(#shLine)"/>
<rect x="909.4" y="418.8" width="251" height="75.4" fill="#F2F2F2" stroke="#000" stroke-width="1.15" filter="url(#shBox)"/>
<text x="918.1" y="473.2" font-size="50.6" font-weight="bold" fill="#C00000" textLength="232.16" lengthAdjust="spacingAndGlyphs">10 Weeks<tspan font-size="61" dy="10">*</tspan></text>
<rect x="174.5" y="1707.6" width="1700" height="428.7" fill="#F2F2F2" stroke="#000" stroke-width="1.15" filter="url(#shBox)"/>
<text x="204.5" y="1772.1" font-size="50.8" font-weight="bold" fill="#C00000" textLength="906.88" lengthAdjust="spacingAndGlyphs"><tspan font-size="58" dy="8">*</tspan><tspan dy="-8" font-size="50.6">Interim high before recession (not a peak)</tspan></text>
<text x="207" y="1855.7" font-size="50.6" textLength="1530.84" lengthAdjust="spacingAndGlyphs">Recession dates are based on the FRED USRECP series, which identifies the</text>
<text x="207" y="1918.0" font-size="50.6" textLength="1533.62" lengthAdjust="spacingAndGlyphs">business cycle peak through the period preceding the trough. The blue line</text>
<text x="207" y="1978.9" font-size="50.6" textLength="1614.91" lengthAdjust="spacingAndGlyphs">represents ECRI&#39;s spreadsheet dates, which become available to the public one</text>
<text x="207" y="2040.4" font-size="50.6" textLength="1536.81" lengthAdjust="spacingAndGlyphs">week later. The callouts are the number of weeks between the most recent</text>
<text x="207" y="2101.6" font-size="50.6" textLength="1476.95" lengthAdjust="spacingAndGlyphs">indicator peak through the last ECRI data point before the USRECP peak.</text>
<text x="1565.8" y="114.6" font-size="82.6" font-weight="bold" text-anchor="middle" textLength="915.72" lengthAdjust="spacingAndGlyphs">ECRI Weekly Leading Index</text>
<text x="1565.5" y="214.2" font-size="82.6" font-weight="bold" text-anchor="middle" textLength="1289.84" lengthAdjust="spacingAndGlyphs">Peaks with Months Before Recessions</text>
<text x="3095" y="65" font-size="50.2" font-weight="bold" text-anchor="end" fill="#1F497D" textLength="515.53" lengthAdjust="spacingAndGlyphs">advisorperspectives.com</text>
<text x="3095" y="127.8" font-size="50.2" font-weight="bold" text-anchor="end" fill="#1F497D" textLength="416.89" lengthAdjust="spacingAndGlyphs">September 23, 2022</text>
<path d="M105.26,77.57 A31,31 0 0 1 77.37,105.46" fill="none" stroke="#AE9245" stroke-width="4"/>
<path d="M71.43,105.46 A31,31 0 0 1 43.54,77.57" fill="none" stroke="#AE9245" stroke-width="4"/>
<path d="M43.54,71.63 A31,31 0 0 1 71.43,43.74" fill="none" stroke="#AE9245" stroke-width="4"/>
<path d="M77.37,43.74 A31,31 0 0 1 105.26,71.63" fill="none" stroke="#AE9245" stroke-width="4"/>
<polygon points="74.40,38.10 78.42,64.90 89.25,59.75 84.10,70.58 110.90,74.60 84.10,78.62 89.25,89.45 78.42,84.30 74.40,111.10 70.38,84.30 59.55,89.45 64.70,78.62 37.90,74.60 64.70,70.58 59.55,59.75 70.38,64.90" fill="#7A1315"/>
<text x="115.8" y="72.7" style="font-family:Lato, 'Liberation Sans', sans-serif" font-size="47.7" font-weight="900" fill="#7A1315" textLength="212.39" lengthAdjust="spacingAndGlyphs">ADVISOR</text>
<text x="111.4" y="110.3" style="font-family:Lato, 'Liberation Sans', sans-serif" font-size="48" font-weight="400" fill="#AE9245" textLength="328.56" lengthAdjust="spacingAndGlyphs">PERSPECTIVES</text>
<rect x="1.5" y="1.5" width="3128" height="2272" fill="none" stroke="#878787" stroke-width="3"/>
</svg></body></html>
